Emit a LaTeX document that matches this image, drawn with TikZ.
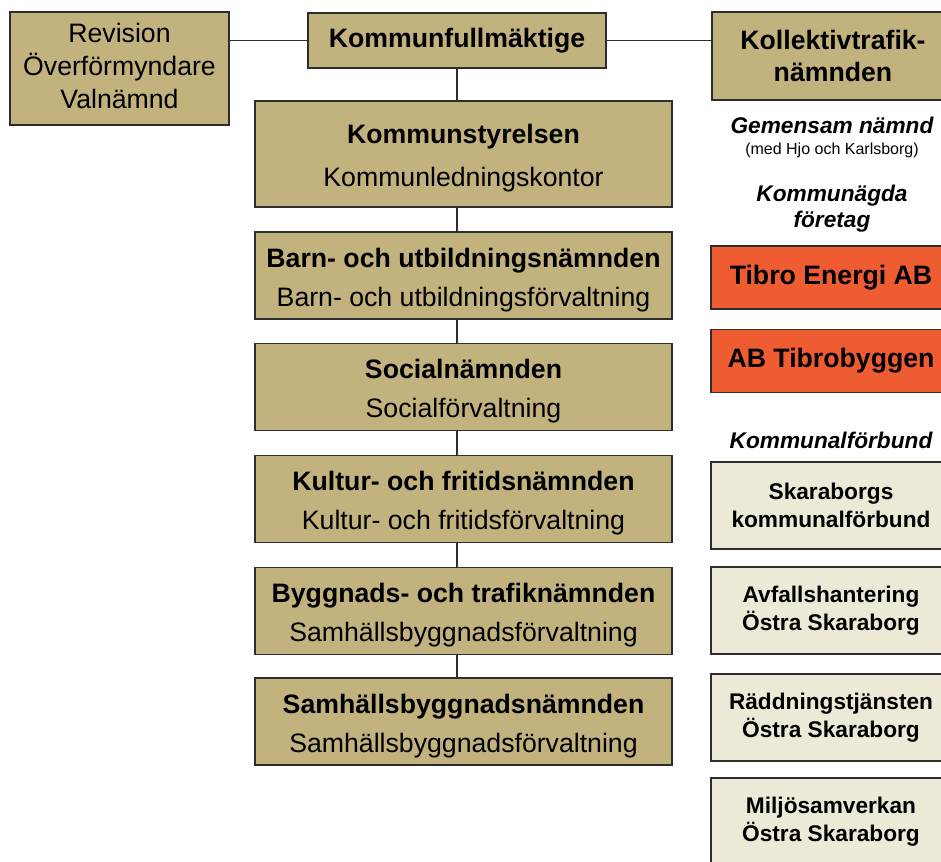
\documentclass[tikz,border=0pt]{standalone}
\usepackage{fontspec}
\setmainfont{Liberation Sans}
\definecolor{boxtan}{RGB}{193,178,126}
\definecolor{corpred}{RGB}{239,92,50}
\definecolor{lightbeige}{RGB}{236,233,215}
\definecolor{edgegray}{RGB}{45,45,45}
\usetikzlibrary{positioning}
% two-line box text: nämnd (bold) over förvaltning
\newcommand{\namnd}[3][0pt]{\rule{0pt}{21pt}{\bfseries #2}\\[#1]#3}

\begin{document}
\begin{tikzpicture}[x=0.75pt, y=-0.75pt,
  org/.style={draw=edgegray, line width=1.3pt, fill=boxtan, align=center, inner sep=0pt,
              font=\fontsize{20}{29.5}\selectfont},
  nmd/.style={org, minimum width=312.75pt, minimum height=65.25pt},
  ext/.style={org, minimum width=180pt, font=\bfseries\fontsize{17}{21}\selectfont},
  lbl/.style={align=center, inner sep=0pt, font=\bfseries\itshape\fontsize{17}{20}\selectfont},
  conn/.style={draw=edgegray, line width=1.4pt},
]
\useasboundingbox (0,0) rectangle (941,862);
\clip (0,0) rectangle (941,862);

% top row
\node[org, minimum width=164.25pt, minimum height=84.75pt, font=\fontsize{20}{24.75}\selectfont]
  (rev) at (119.5,68.5) {Revision\\Överförmyndare\\Valnämnd\rule[-4.5pt]{0pt}{0pt}};
\node[org, minimum width=223pt, minimum height=41.5pt, font=\bfseries\fontsize{20}{24}\selectfont]
  (kfm) at (457,40.5) {Kommunfullmäktige};
\node[org, minimum width=182pt, minimum height=66pt, font=\bfseries\fontsize{20}{24}\selectfont]
  (kol) at (833,56) {Kollektivtrafik-\\nämnden};

% nämnder and förvaltningar
\node[nmd, minimum height=79.5pt] (ks) at (463.5,154) {\namnd[2.5pt]{Kommunstyrelsen}{Kommunledningskontor}};
\node[nmd] (bun) at (463.5,275.5) {\namnd{Barn- och utbildningsnämnden}{Barn- och utbildningsförvaltning}};
\node[nmd] (soc) at (463.5,387) {\namnd{Socialnämnden}{Socialförvaltning}};
\node[nmd] (kfn) at (463.5,499) {\namnd{Kultur- och fritidsnämnden}{Kultur- och fritidsförvaltning}};
\node[nmd] (btn) at (463.5,611) {\namnd{Byggnads- och trafiknämnden}{Samhällsbyggnadsförvaltning}};
\node[nmd] (sbn) at (463.5,721.5) {\namnd{Samhällsbyggnadsnämnden}{Samhällsbyggnadsförvaltning}};

\draw[conn] (rev.east |- kfm.west) -- (kfm.west);
\draw[conn] (kfm.east) -- (kfm.east -| kol.west);
\draw[conn] (kfm.south) -- (kfm.south |- ks.north);
\foreach \a/\b in {ks/bun, bun/soc, soc/kfn, kfn/btn, btn/sbn}
  \draw[conn] (\a.south -| kfm.south) -- (\b.north -| kfm.south);

% right column
\node[lbl] (gem) at (832,125) {Gemensam nämnd};
\node[inner sep=0pt, font=\fontsize{12}{14}\selectfont] (med) at (832,150) {(med Hjo och Karlsborg)};
\node[lbl] (kag) at (832,208.5) {Kommunägda\\företag};
\node[ext, fill=corpred, minimum height=47.25pt, font=\bfseries\fontsize{20}{24}\selectfont]
  (tea) at (831,277.5) {Tibro Energi AB};
\node[ext, fill=corpred, minimum height=47.25pt, font=\bfseries\fontsize{20}{24}\selectfont]
  (tib) at (831,361) {AB Tibrobyggen};
\node[lbl] (kfb) at (831,440) {Kommunalförbund};
\node[ext, fill=lightbeige, minimum height=65.25pt] (skf) at (831,505.5) {Skaraborgs\\kommunalförbund};
\node[ext, fill=lightbeige, minimum height=65.25pt] (afh) at (831,610.5) {Avfallshantering\\Östra Skaraborg};
\node[ext, fill=lightbeige, minimum height=65.25pt] (rtj) at (831,717.5) {Räddningstjänsten\\Östra Skaraborg};
\node[ext, fill=lightbeige, minimum height=65.25pt] (msv) at (831,821.5) {Miljösamverkan\\Östra Skaraborg};
\end{tikzpicture}
\end{document}
